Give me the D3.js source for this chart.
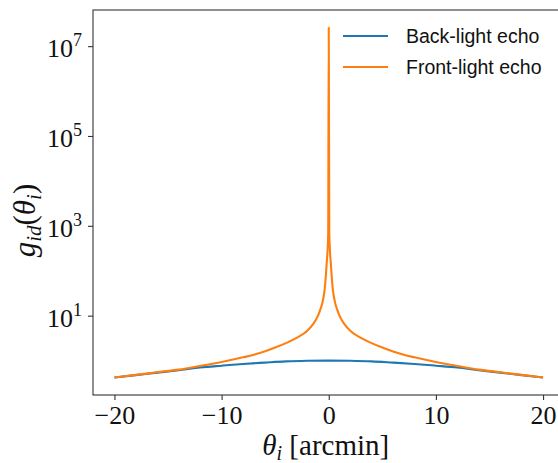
<!DOCTYPE html>
<meta charset='utf-8'>
<html>
<head>
    <script src='https://d3js.org/d3.v7.min.js'></script>
    <style>
        html, body { margin: 0; padding: 0; background: white; }
        svg { display: block; }
        .tick text { font-family: 'Liberation Serif', serif; }
    </style>
</head>
<body>
<script>
    const width = 558;
    const height = 463;
    const marginLeft = 93;
    const marginTop = 10;
    const plotWidth = 471.5;
    const plotHeight = 385;

    // theta_i [arcmin]
    const thetaBack = [-20, -18, -16, -14, -12, -10, -8, -6, -4, -2, 0,
        2, 4, 6, 8, 10, 12, 14, 16, 18, 20];
    const gBack = [0.42, 0.475, 0.54, 0.61, 0.70, 0.77, 0.84, 0.90, 0.96, 0.99, 1.0,
        0.99, 0.96, 0.90, 0.84, 0.77, 0.70, 0.61, 0.54, 0.475, 0.42];

    const thetaFront = [-20, -18, -16, -14, -12, -10, -8, -7, -6, -5, -4, -3, -2, -1.5, -1,
        -0.75, -0.6, -0.5, -0.4, -0.3, -0.25, -0.2, -0.15, -0.1, -0.05, 0,
        0.05, 0.1, 0.15, 0.2, 0.25, 0.3, 0.4, 0.5, 0.6, 0.75,
        1, 1.5, 2, 3, 4, 5, 6, 7, 8, 10, 12, 14, 16, 18, 20];
    const gFront = [0.42, 0.48, 0.55, 0.63, 0.76, 0.93, 1.18, 1.35, 1.6, 1.95, 2.45, 3.2, 4.6, 6.3, 10,
        14.5, 19, 25, 35, 63, 90, 140, 200, 320, 700, 2.6e7,
        700, 320, 200, 140, 90, 63, 35, 25, 19, 14.5,
        10, 6.3, 4.6, 3.2, 2.45, 1.95, 1.6, 1.35, 1.18, 0.93, 0.76, 0.63, 0.55, 0.48, 0.42];

    const xTicks = [-20, -10, 0, 10, 20];
    const yTickExps = [1, 3, 5, 7];
    const seriesNames = ['Back-light echo', 'Front-light echo'];
    const seriesColours = ['#1f77b4', '#ff7f0e'];

    const svg = d3.select('body').append('svg')
        .attr('width', width)
        .attr('height', height)
        .style('overflow', 'hidden');

    // matplotlib style 5% margins
    const xExt = d3.extent(thetaBack.concat(thetaFront));
    const xPad = (xExt[1] - xExt[0]) * 0.05;
    const yExt = d3.extent(gBack.concat(gFront)).map(Math.log10);
    const yPad = (yExt[1] - yExt[0]) * 0.05;

    const x = d3.scaleLinear()
        .domain([xExt[0] - xPad, xExt[1] + xPad])
        .range([marginLeft, marginLeft + plotWidth]);
    const y = d3.scaleLog()
        .domain([Math.pow(10, yExt[0] - yPad), Math.pow(10, yExt[1] + yPad)])
        .range([marginTop + plotHeight, marginTop]);

    const line = d3.line()
        .curve(d3.curveMonotoneX)
        .x(function (d) { return x(d[0]); })
        .y(function (d) { return y(d[1]); });

    const series = [d3.zip(thetaBack, gBack), d3.zip(thetaFront, gFront)];

    svg.append('g')
        .selectAll('path')
        .data(series)
        .enter()
        .append('path')
        .attr('d', line)
        .attr('fill', 'none')
        .attr('stroke', function (d, i) { return seriesColours[i]; })
        .attr('stroke-width', 2.1)
        .attr('stroke-linejoin', 'round');

    // frame
    svg.append('rect')
        .attr('x', marginLeft)
        .attr('y', marginTop)
        .attr('width', plotWidth)
        .attr('height', plotHeight)
        .attr('fill', 'none')
        .attr('stroke', '#333')
        .attr('stroke-width', 1.1);

    // x axis
    const xAxis = svg.append('g')
        .attr('transform', 'translate(0,' + (marginTop + plotHeight) + ')')
        .call(d3.axisBottom(x).tickValues(xTicks).tickSize(5).tickPadding(6)
            .tickFormat(function (d) { return d < 0 ? '\u2212' + Math.abs(d) : d; }));
    xAxis.select('.domain').remove();
    xAxis.selectAll('.tick line').attr('stroke', '#333').attr('stroke-width', 1.1);
    xAxis.selectAll('.tick text')
        .attr('fill', '#111')
        .style('font-size', '26px');

    // y axis with 10^n labels
    const yAxis = svg.append('g')
        .attr('transform', 'translate(' + marginLeft + ',0)')
        .call(d3.axisLeft(y).tickValues(yTickExps.map(function (e) { return Math.pow(10, e); }))
            .tickSize(5).tickFormat(''));
    yAxis.select('.domain').remove();
    yAxis.selectAll('.tick line').attr('stroke', '#333').attr('stroke-width', 1.1);

    const yLabels = svg.append('g')
        .selectAll('text')
        .data(yTickExps)
        .enter()
        .append('text')
        .attr('x', 82)
        .attr('y', function (d) { return y(Math.pow(10, d)) + 11; })
        .attr('text-anchor', 'end')
        .attr('fill', '#111')
        .style('font-family', "'Liberation Serif', serif")
        .style('font-size', '26px');
    yLabels.append('tspan').text('10');
    yLabels.append('tspan')
        .attr('dy', -11)
        .style('font-size', '18px')
        .text(function (d) { return d; });

    // axis labels
    const xLabel = svg.append('text')
        .attr('x', marginLeft + plotWidth / 2 - 3)
        .attr('y', 455)
        .attr('text-anchor', 'middle')
        .attr('fill', '#111')
        .style('font-family', "'Liberation Serif', serif")
        .style('font-size', '29px');
    xLabel.append('tspan').style('font-style', 'italic').text('\u03b8');
    xLabel.append('tspan').attr('dy', 5).style('font-style', 'italic').style('font-size', '20px').text('i');
    xLabel.append('tspan').attr('dy', -5).text(' [arcmin]');

    const yLabel = svg.append('text')
        .attr('transform', 'translate(35,' + (marginTop + plotHeight / 2 + 18) + ') rotate(-90)')
        .attr('text-anchor', 'middle')
        .attr('fill', '#111')
        .style('font-family', "'Liberation Serif', serif")
        .style('font-size', '31px');
    yLabel.append('tspan').style('font-style', 'italic').text('g');
    yLabel.append('tspan').attr('dy', 6).style('font-style', 'italic').style('font-size', '21px').text('id');
    yLabel.append('tspan').attr('dy', -6).text('(');
    yLabel.append('tspan').style('font-style', 'italic').text('\u03b8');
    yLabel.append('tspan').attr('dy', 6).style('font-style', 'italic').style('font-size', '21px').text('i');
    yLabel.append('tspan').attr('dy', -6).text(')');

    // legend
    const legend = svg.selectAll('g.legendEntry')
        .data(seriesNames)
        .enter()
        .append('g')
        .attr('class', 'legendEntry')
        .attr('transform', function (d, i) { return 'translate(343,' + (36 + i * 31) + ')'; });
    legend.append('line')
        .attr('x1', 0).attr('x2', 45)
        .attr('stroke', function (d, i) { return seriesColours[i]; })
        .attr('stroke-width', 2.1);
    legend.append('text')
        .attr('x', 63)
        .attr('y', 7)
        .attr('fill', '#111')
        .style('font-family', "'Liberation Sans', sans-serif")
        .style('font-size', '19.5px')
        .text(function (d) { return d; });
</script>
</body>
</html>
